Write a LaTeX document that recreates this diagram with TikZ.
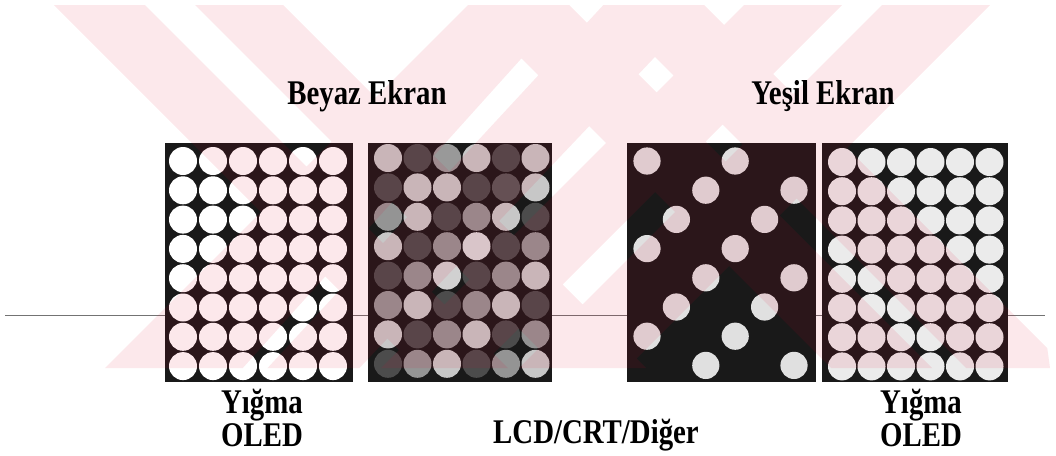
\documentclass[tikz,border=0pt]{standalone}
\usepackage{fontspec}
\setmainfont{Liberation Serif}
\definecolor{wmred}{rgb}{0.89,0,0.17}
\begin{document}
\begin{tikzpicture}[x=0.025cm,y=-0.025cm]
\tikzset{
  panel/.style={fill=black!90},
  lbl/.style={font=\fontsize{20.5}{22}\selectfont\bfseries, align=center, inner sep=0pt},
  wm/.style={fill=wmred, fill opacity=0.09, draw=none}
}
\newcommand\vstr[1]{\scalebox{1}[1.2]{#1}}
\useasboundingbox (0,0) rectangle (1056,455);
\fill[white] (0,0) rectangle (1056,455);
% horizontal rule behind the panels
\coordinate (ruleL) at (5,315);
\coordinate (ruleR) at (1045,315);
\draw[black!55, line width=0.6pt] (ruleL) -- (ruleR);
% panels
\fill[panel] (165,143) rectangle (353,382);
\fill[panel] (368,143) rectangle (552,382);
\fill[panel] (627,143) rectangle (816,382);
\fill[panel] (822,143) rectangle (1008,382);
% panel 1: all white
\foreach \c in {0,...,5}
  \foreach \r in {0,...,7}
    \fill[white] (183+30*\c,161+29.3*\r) circle[radius=0.35cm];
% panel 2: grey levels
\foreach \r/\vals in {0/{78,30,60,78,30,78},1/{30,78,78,30,35,78},2/{58,78,30,58,78,30},3/{78,30,58,85,30,58},4/{30,58,82,30,58,78},5/{58,78,30,58,78,30},6/{78,30,58,78,30,58},7/{30,58,78,30,58,78}}
  \foreach \v [count=\c from 0] in \vals
    \fill[white!\v!black] (388+29.5*\c,158+29.4*\r) circle[radius=0.35cm];
% panel 3: diagonal pattern
\foreach \r in {0,...,7}
  \foreach \c in {0,...,5}{
    \pgfmathtruncatemacro\m{mod(\r+\c,3)}
    \ifnum\m=0
      \fill[white!88!black] (647+29.4*\c,161+29.2*\r) circle[radius=0.34cm];
    \fi
  }
% panel 4: all lit
\foreach \c in {0,...,5}
  \foreach \r in {0,...,7}
    \fill[white!92!black] (842+29.5*\c,162+29.2*\r) circle[radius=0.35cm];
% watermark (faint diagonal bands, drawn as one union)
\begin{scope}
\clip (54,5) -- (1000,5) -- (1050,368) -- (54,368) -- cycle;
\fill[wm]
  (49,0) -- (140,0) -- (540,400) -- (449,400) -- cycle
  (190,0) -- (278,0) -- (678,400) -- (590,400) -- cycle
  (463,0) -- (564,0) -- (964,400) -- (863,400) -- cycle
  (598,0) -- (699,0) -- (1099,400) -- (998,400) -- cycle
  (473,0) -- (574,0) -- (214,400) -- (73,400) -- cycle
  (608,0) -- (709,0) -- (329,400) -- (238,400) -- cycle
  (749,0) -- (847,0) -- (447,400) -- (349,400) -- cycle
  (887,0) -- (995,0) -- (595,400) -- (487,400) -- cycle;
\end{scope}
% labels
\node[lbl] (beyaz) at (367,96) {\vstr{Beyaz Ekran}};
\node[lbl] (yesil) at (823,96) {\vstr{Yeşil Ekran}};
\node[lbl] (yigmaL) at (262,418) {\vstr{Yığma}\\[2pt]\vstr{OLED}};
\node[lbl] (lcd) at (596,435) {\vstr{LCD/CRT/Diğer}};
\node[lbl] (yigmaR) at (921,418) {\vstr{Yığma}\\[2pt]\vstr{OLED}};
\end{tikzpicture}
\end{document}
